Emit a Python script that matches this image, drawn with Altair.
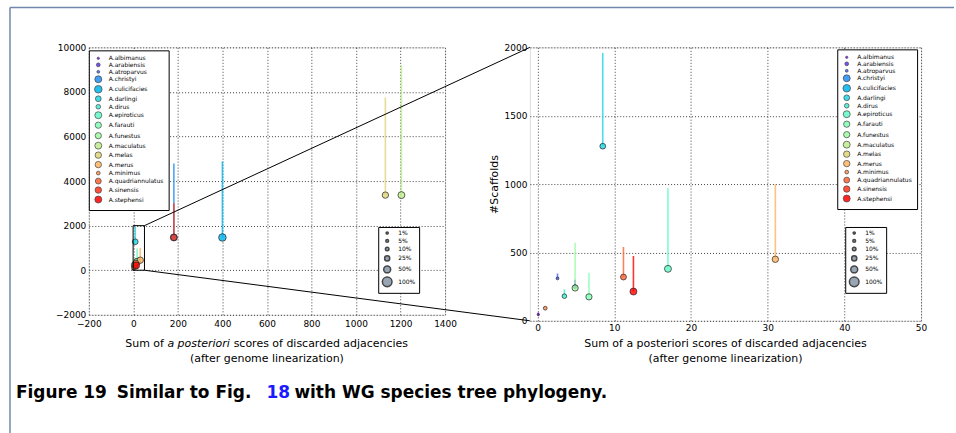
import math
import altair as alt
import pandas as pd

# ---------------- data ----------------
species = ['A.albimanus', 'A.arabiensis', 'A.atroparvus', 'A.christyi', 'A.culicifacies',
           'A.darlingi', 'A.dirus', 'A.epiroticus', 'A.farauti', 'A.funestus', 'A.maculatus',
           'A.melas', 'A.merus', 'A.minimus', 'A.quadriannulatus', 'A.sinensis', 'A.stephensi']
score = [0.1, 4.9, 2.6, 182, 400, 8.5, 3.5, 17.0, 6.7, 4.9, 1204, 1132, 31.0, 1.0, 11.2, 182, 12.5]
scaffolds = [45, 250, 310, 1470, 1470, 1277, 180, 380, 175, 240, 3370, 3370, 450, 92, 320, 1470, 214]
upper = [60, 300, 345, 4790, 4880, 1958, 231, 970, 350, 570, 9200, 7750, 1000, 100, 540, 3000, 474]
pct = [2, 12, 5, 50, 60, 33, 20, 50, 40, 40, 50, 42, 42, 12, 35, 42, 50]

pct_legend = [1, 5, 10, 25, 50, 100]
left_xticks = [-200, 0, 200, 400, 600, 800, 1000, 1200, 1400]
left_yticks = [-2000, 0, 2000, 4000, 6000, 8000, 10000]
right_xticks = [0, 10, 20, 30, 40, 50]
right_yticks = [0, 500, 1000, 1500, 2000]
inset_box = {'score': [-1], 'score2': [50], 'scaffolds': [0], 'scaffolds2': [2000]}

xtitle1 = 'Sum of a posteriori scores of discarded adjacencies'
xtitle2 = '(after genome linearization)'


# ---------------- styles ----------------
def rainbow(t):
    r = min(1.0, abs(2 * t - 0.5))
    g = math.sin(math.pi * t)
    b = max(0.0, math.cos(math.pi * t / 2))
    return '#%02x%02x%02x' % (round(r * 255), round(g * 255), round(b * 255))


colors = [rainbow(i / (len(species) - 1)) for i in range(len(species))]
SIZE_MIN, SIZE_SLOPE = 3.5, 0.9
sym_sizes = [round(SIZE_MIN + SIZE_SLOPE * p, 2) for p in pct]

FONT = 'DejaVu Sans'
df = pd.DataFrame({'species': species, 'score': score, 'scaffolds': scaffolds,
                   'upper': upper, 'pct': pct})
pdf = pd.DataFrame({'pct': pct_legend})
one = pd.DataFrame({'k': [0]})


def axis(values, title=None, pad=3, **kw):
    return alt.Axis(values=values, title=title, format='d', grid=True, gridDash=[1, 2],
                    gridColor='black', gridOpacity=0.75, domain=False, ticks=False,
                    labelFontSize=9, labelPadding=pad, labelColor='black', labelFont=FONT,
                    labelFlush=False, labelOverlap=False, **kw)


def panel(xdom, ydom, xticks, yticks, legend_xy, size_xy, ytitle, clip, xpad):
    yaxis_kw = {}
    if ytitle:
        yaxis_kw = dict(titleFontSize=11, titleFontWeight='normal', titleColor='black',
                        titleFont=FONT, titlePadding=5)
    X = alt.X('score:Q', scale=alt.Scale(domain=xdom, nice=False, zero=False),
              axis=axis(xticks, pad=xpad))
    Y = alt.Y('scaffolds:Q', scale=alt.Scale(domain=ydom, nice=False, zero=False),
              axis=axis(yticks, ytitle, **yaxis_kw))
    cscale = alt.Scale(domain=species, range=colors)
    rules = alt.Chart(df).mark_rule(strokeWidth=1.6, opacity=0.8, clip=clip).encode(
        x=X, y=Y, y2='upper:Q',
        color=alt.Color('species:N', scale=cscale, legend=None))
    leg = alt.Legend(
        orient='none', legendX=legend_xy[0], legendY=legend_xy[1], title=None,
        labelFontSize=6, labelFont=FONT, labelColor='black', strokeColor='black',
        fillColor='white', padding=5, rowPadding=-0.5, labelOffset=6,
        symbolType='circle', symbolStrokeWidth=0.7, symbolStrokeColor='#222222',
        symbolFillColor='#888888', symbolOpacity=0.85)
    pts = alt.Chart(df).mark_circle(stroke='#222222', strokeWidth=0.7, opacity=1,
                                    fillOpacity=0.8, clip=clip).encode(
        x=X, y=Y,
        color=alt.Color('species:N', scale=cscale, legend=leg),
        size=alt.Size('species:N', scale=alt.Scale(type='ordinal', domain=species, range=sym_sizes),
                      legend=leg))
    # hidden carrier of the percentage legend (drawn outside the clipped plot area)
    pleg = alt.Chart(pdf).mark_circle(color='#8d9cad', stroke='#333333', strokeWidth=0.8,
                                      opacity=0.9, clip=True).encode(
        x=alt.value(-2000), y=alt.value(-2000),
        size=alt.Size('pct:Q', scale=alt.Scale(domain=[0, 100],
                                               range=[SIZE_MIN, SIZE_MIN + SIZE_SLOPE * 100]),
                      legend=alt.Legend(
                          orient='none', legendX=size_xy[0], legendY=size_xy[1], title=None,
                          values=pct_legend, labelExpr="datum.label + '%'",
                          labelFontSize=6, labelFont=FONT, labelColor='black',
                          strokeColor='black', fillColor='white', padding=3, rowPadding=-2,
                          labelOffset=5, symbolType='circle')))
    return X, Y, [rules, pts, pleg]


LW, LH = 357, 268
RW, RH = 392, 274
SPACING = 85

X, Y, left_layers = panel([-200, 1400], [-2000, 10000], left_xticks, left_yticks,
                          (0, 3), (290, 180), None, False, 5)

box = alt.Chart(pd.DataFrame(inset_box)).mark_rect(
    fillOpacity=0, stroke='black', strokeWidth=1).encode(
    x=X, x2='score2:Q', y=Y, y2='scaffolds2:Q')
conn_top = alt.Chart(pd.DataFrame({'score': [50], 'scaffolds': [2000]})).mark_rule(
    color='black', strokeWidth=1).encode(x=X, y=Y, x2=alt.value(LW + SPACING), y2=alt.value(0))
conn_bot = alt.Chart(pd.DataFrame({'score': [50], 'scaffolds': [0]})).mark_rule(
    color='black', strokeWidth=1).encode(x=X, y=Y, x2=alt.value(LW + SPACING), y2=alt.value(RH))

BORDER = '#7088aa'
border_top = alt.Chart(one).mark_rule(color=BORDER, strokeWidth=1.5).encode(
    x=alt.value(-79), x2=alt.value(867), y=alt.value(-40), y2=alt.value(-40))
border_left = alt.Chart(one).mark_rule(color=BORDER, strokeWidth=1.5).encode(
    x=alt.value(-79), x2=alt.value(-79), y=alt.value(-40), y2=alt.value(387))


def label(text, x, y, size=11, align='left', style=None, weight='normal', color='black'):
    kw = dict(text=text, align=align, baseline='middle', fontSize=size, font=FONT,
              fontWeight=weight, color=color)
    if style:
        kw['fontStyle'] = style
    return alt.Chart(one).mark_text(**kw).encode(x=alt.value(x), y=alt.value(y))


# left x title with italic "a posteriori"
fs = 11
c = LW / 2
start = c - 25.822 * fs / 2
lt = [
    label('Sum of', start, 297),
    label('a posteriori', start + 3.843 * fs, 297, style='italic'),
    label('scores of discarded adjacencies', start + (3.843 + 5.718 + 0.318) * fs, 297),
    label(xtitle2, c, 312, align='center'),
]

cap_y = 346
caption = [
    label('Figure 19', -73, cap_y, size=17, weight='bold'),
    label('Similar to Fig.', 28, cap_y, size=17, weight='bold'),
    label('18', 178, cap_y, size=17, weight='bold', color='#1a1aff'),
    label('with WG species tree phylogeny.', 206, cap_y, size=17, weight='bold'),
]

left = alt.layer(*left_layers, box, conn_top, conn_bot, border_top, border_left,
                 *lt, *caption).resolve_scale(size='independent', color='independent'
                                              ).properties(width=LW, height=LH)

X2, Y2, right_layers = panel([-1, 50], [0, 2000], right_xticks, right_yticks,
                             (308, 2), (316, 180), '#Scaffolds', True, 3)
rt = [label(xtitle1, RW / 2, 297, align='center'), label(xtitle2, RW / 2, 312, align='center')]
right = alt.layer(*right_layers, *rt).resolve_scale(size='independent', color='independent'
                                                    ).properties(width=RW, height=RH)

chart = alt.hconcat(left, right, spacing=SPACING, bounds='flush').resolve_scale(
    color='independent', size='independent', x='independent', y='independent'
).resolve_legend(color='independent', size='independent').properties(
    padding={'left': 8, 'top': 5, 'right': 0, 'bottom': 0}
).configure_view(stroke='black', strokeWidth=1).configure(font=FONT, background='white')

chart.save('out.html', embed_options={'renderer': 'svg', 'actions': False})
